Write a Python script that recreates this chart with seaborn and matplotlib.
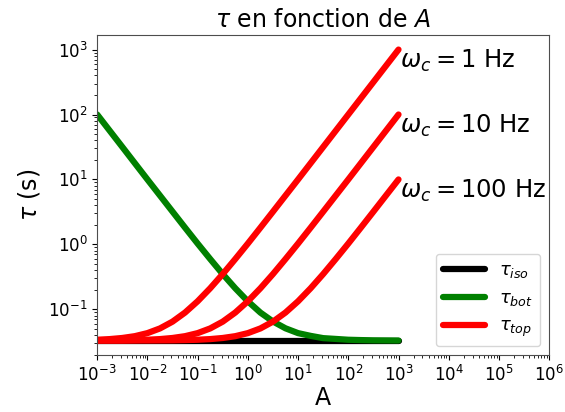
import numpy as np
import pandas as pd
import matplotlib
matplotlib.use("Agg")
import matplotlib.pyplot as plt
import seaborn as sns

# values (log-log)
A = [0.001, 0.00178, 0.00316, 0.00562, 0.01, 0.0178, 0.0316, 0.0562,
     0.1, 0.178, 0.316, 0.562, 1, 1.78, 3.16, 5.62, 10, 17.8, 31.6, 56.2,
     100, 178, 316, 562, 1000]

tau_iso = [0.033, 0.033, 0.033, 0.033, 0.033, 0.033, 0.033, 0.033,
           0.033, 0.033, 0.033, 0.033, 0.033, 0.033, 0.033, 0.033, 0.033,
           0.033, 0.033, 0.033, 0.033, 0.033, 0.033, 0.033, 0.033]

tau_bot = [100, 56.2, 31.7, 17.8, 10.0, 5.65, 3.20, 1.81, 1.03, 0.595,
           0.349, 0.211, 0.133, 0.089, 0.065, 0.051, 0.043, 0.039, 0.036,
           0.035, 0.034, 0.0336, 0.0333, 0.0332, 0.0331]

tau_top_1 = [0.034, 0.0348, 0.0362, 0.0386, 0.043, 0.0508, 0.0646, 0.0892,
             0.133, 0.211, 0.349, 0.595, 1.03, 1.81, 3.19, 5.65, 10.0, 17.8,
             31.6, 56.2, 100, 178, 316, 562, 1000]

tau_top_10 = [0.0331, 0.0332, 0.0333, 0.0336, 0.034, 0.0348, 0.0362, 0.0386,
              0.043, 0.0508, 0.0646, 0.0892, 0.133, 0.211, 0.349, 0.595, 1.03,
              1.81, 3.19, 5.65, 10.0, 17.8, 31.6, 56.2, 100]

tau_top_100 = [0.033, 0.033, 0.033, 0.0331, 0.0331, 0.0332, 0.0333, 0.0336,
               0.034, 0.0348, 0.0362, 0.0386, 0.043, 0.0508, 0.0646, 0.0892,
               0.133, 0.211, 0.349, 0.595, 1.03, 1.81, 3.19, 5.65, 10.0]

omega_labels = [r"$\omega_c = 1$ Hz", r"$\omega_c = 10$ Hz", r"$\omega_c = 100$ Hz"]

sns.set_style("ticks")
plt.rcParams["font.family"] = ["DejaVu Sans"]
plt.rcParams["mathtext.fontset"] = "dejavusans"
plt.rcParams["text.color"] = "black"
plt.rcParams["axes.labelcolor"] = "black"

fig, ax = plt.subplots(figsize=(5.65, 4.12), dpi=100)
fig.subplots_adjust(left=0.172, right=0.972, top=0.915, bottom=0.138)

lw = 4.5
sns.lineplot(x=A, y=tau_iso, color="black", lw=lw, label=r"$\tau_{iso}$", ax=ax)
sns.lineplot(x=A, y=tau_bot, color="green", lw=lw, label=r"$\tau_{bot}$", ax=ax)
tops = [tau_top_1, tau_top_10, tau_top_100]
for i, top in enumerate(tops):
    sns.lineplot(x=A, y=top, color="red", lw=lw,
                 label=r"$\tau_{top}$" if i == 0 else "_nolegend_", ax=ax)

ax.set_xscale("log")
ax.set_yscale("log")
ax.set_xlim(1e-3, 1e6)

for top, txt in zip(tops, omega_labels):
    ax.text(A[-1] * 1.05, top[-1] * 1.05, txt, fontsize=17.5, ha="left",
            va="top", color="black")

ax.set_title(r"$\tau$ en fonction de $A$", fontsize=17, color="black")
ax.set_xlabel("A", fontsize=17, labelpad=1)
ax.set_ylabel(r"$\tau$ (s)", fontsize=17)
ax.tick_params(axis="both", which="major", labelsize=12, colors="black")
ax.tick_params(axis="both", which="minor", colors="black")
for s in ax.spines.values():
    s.set_color("0.3")

leg = ax.legend(loc="lower right", fontsize=13, frameon=True, handlelength=2.3)
for t in leg.get_texts():
    t.set_color("black")

fig.savefig("out.png", dpi=100)
